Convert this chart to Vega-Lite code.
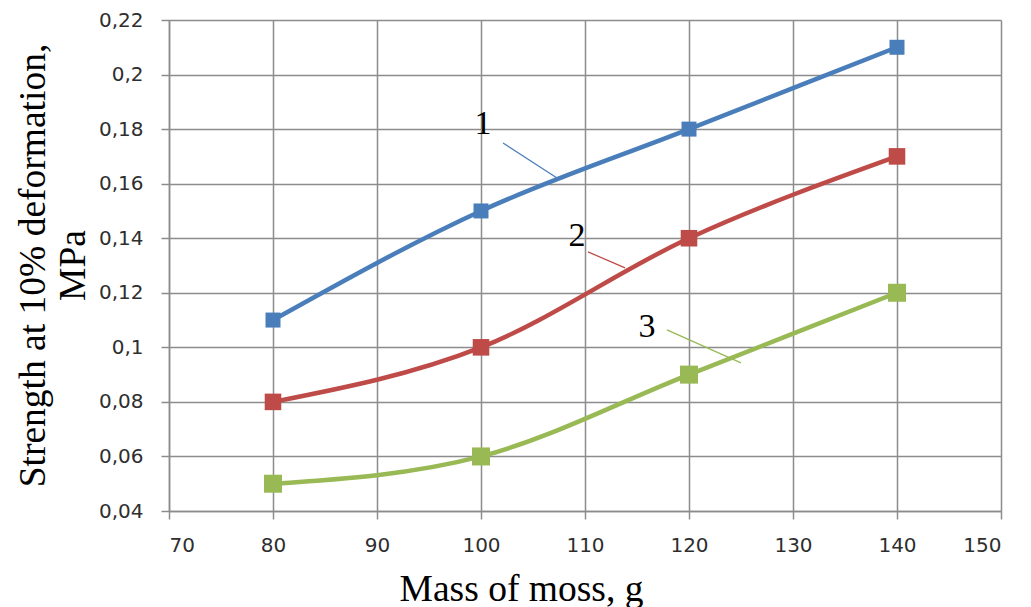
{
  "$schema": "https://vega.github.io/schema/vega-lite/v6.json",
  "width": 832,
  "height": 491,
  "autosize": {"type": "none"},
  "padding": {"left": 169, "top": 20, "right": 30, "bottom": 96},
  "background": "white",
  "config": {
    "view": {"stroke": null},
    "locale": {"number": {"decimal": ",", "thousands": " ", "grouping": [3], "currency": ["", ""]}},
    "axis": {
      "gridColor": "#8c8c8c",
      "gridWidth": 1.5,
      "gridOpacity": 1,
      "domainColor": "#8c8c8c",
      "domainWidth": 1.5,
      "tickColor": "#8c8c8c",
      "tickWidth": 1.5,
      "tickSize": 8,
      "labelFont": "DejaVu Sans",
      "labelFontSize": 20,
      "labelColor": "#2e2e2e",
      "titleFont": "Liberation Serif",
      "titleFontSize": 37.5,
      "titleFontWeight": "normal",
      "titleColor": "#000000"
    }
  },
  "datasets": {
    "series": [
      {"mass": 80, "strength": 0.11, "curve": "1"},
      {"mass": 100, "strength": 0.15, "curve": "1"},
      {"mass": 120, "strength": 0.18, "curve": "1"},
      {"mass": 140, "strength": 0.21, "curve": "1"},
      {"mass": 80, "strength": 0.08, "curve": "2"},
      {"mass": 100, "strength": 0.10, "curve": "2"},
      {"mass": 120, "strength": 0.14, "curve": "2"},
      {"mass": 140, "strength": 0.17, "curve": "2"},
      {"mass": 80, "strength": 0.05, "curve": "3"},
      {"mass": 100, "strength": 0.06, "curve": "3"},
      {"mass": 120, "strength": 0.09, "curve": "3"},
      {"mass": 140, "strength": 0.12, "curve": "3"}
    ],
    "labels": [
      {"curve": "1", "lx": 100.19, "ly": 0.1819, "x1": 102.12, "y1": 0.1749, "x2": 107.31, "y2": 0.1621},
      {"curve": "2", "lx": 109.23, "ly": 0.1408, "x1": 110.29, "y1": 0.1350, "x2": 113.85, "y2": 0.1291},
      {"curve": "3", "lx": 115.96, "ly": 0.1075, "x1": 117.88, "y1": 0.1064, "x2": 125.0, "y2": 0.0943}
    ]
  },
  "layer": [
    {
      "data": {"name": "series"},
      "mark": {"type": "line", "interpolate": "monotone", "strokeWidth": 4.5},
      "encoding": {
        "x": {
          "field": "mass", "type": "quantitative",
          "scale": {"domain": [70, 150], "nice": false, "zero": false},
          "axis": {
            "values": [70, 80, 90, 100, 110, 120, 130, 140, 150],
            "title": "Mass of moss, g",
            "labelPadding": 16,
            "titleX": 352,
            "titleY": 89,
            "titleAnchor": null,
            "titleAlign": "center",
            "titleBaseline": "alphabetic"
          }
        },
        "y": {
          "field": "strength", "type": "quantitative",
          "scale": {"domain": [0.04, 0.22], "nice": false, "zero": false},
          "axis": {
            "values": [0.04, 0.06, 0.08, 0.1, 0.12, 0.14, 0.16, 0.18, 0.2, 0.22],
            "format": ".2~f",
            "title": ["Strength at 10% deformation,", "MPa"],
            "labelPadding": 18,
            "titleLineHeight": 40,
            "titleX": -136,
            "titleY": 245,
            "titleAlign": "center",
            "titleBaseline": "middle",
            "titleAngle": -90
          }
        },
        "color": {
          "field": "curve", "type": "nominal",
          "scale": {"domain": ["1", "2", "3"], "range": ["#4a7ebb", "#be4b48", "#98b954"]},
          "legend": null
        }
      }
    },
    {
      "data": {"name": "series"},
      "mark": {"type": "point", "shape": "square", "filled": true, "opacity": 1},
      "encoding": {
        "x": {"field": "mass", "type": "quantitative"},
        "y": {"field": "strength", "type": "quantitative"},
        "color": {"field": "curve", "type": "nominal", "legend": null},
        "size": {
          "field": "curve", "type": "nominal",
          "scale": {"domain": ["1", "2", "3"], "range": [225, 324, 225]},
          "legend": null
        }
      }
    },
    {
      "data": {"name": "labels"},
      "mark": {"type": "rule", "strokeWidth": 1.3},
      "encoding": {
        "x": {"field": "x1", "type": "quantitative"},
        "y": {"field": "y1", "type": "quantitative"},
        "x2": {"field": "x2"},
        "y2": {"field": "y2"},
        "color": {"field": "curve", "type": "nominal", "legend": null}
      }
    },
    {
      "data": {"name": "labels"},
      "mark": {"type": "text", "font": "Liberation Serif", "fontSize": 34, "color": "#000000", "align": "center", "baseline": "middle"},
      "encoding": {
        "x": {"field": "lx", "type": "quantitative"},
        "y": {"field": "ly", "type": "quantitative"},
        "text": {"field": "curve"}
      }
    }
  ]
}
